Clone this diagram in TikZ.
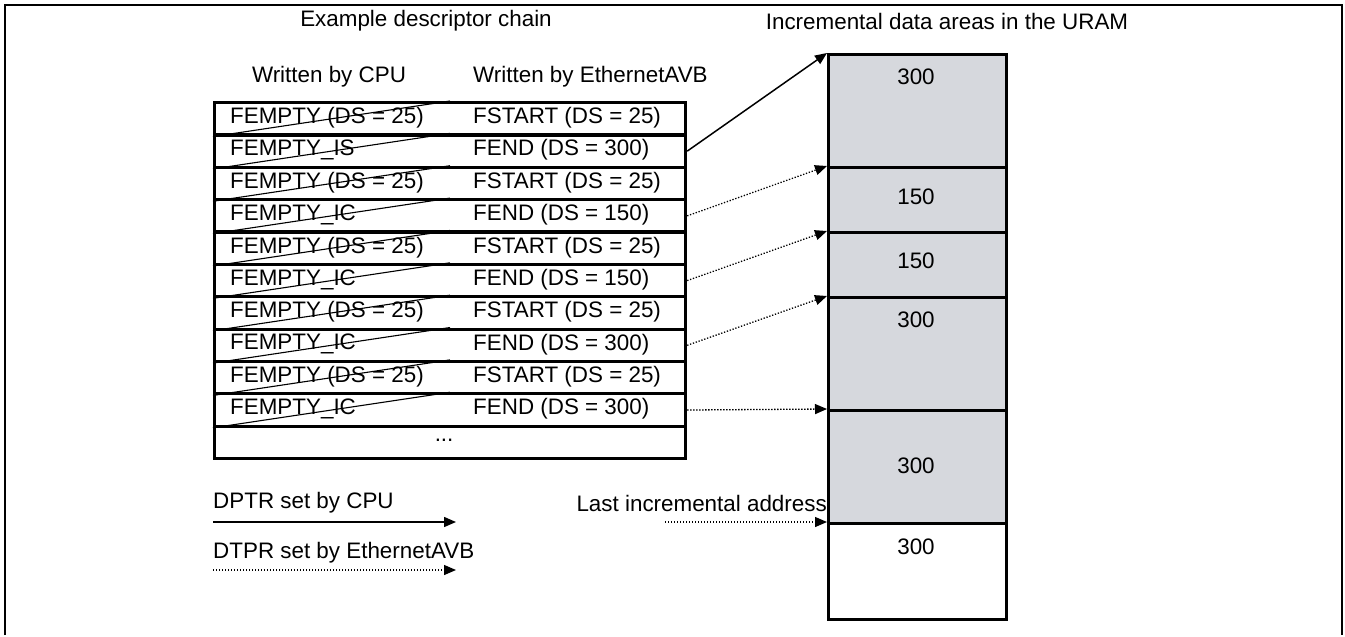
\documentclass[tikz,border=0pt]{standalone}
\usepackage{fontspec}
\setmainfont{Liberation Sans}
\usetikzlibrary{arrows.meta,calc}
\definecolor{areagray}{RGB}{214,216,221}
\tikzset{
  txt/.style={inner sep=0pt, font=\fontsize{22.4}{26}\selectfont},
  rowbox/.style={draw, line width=3.2pt, minimum width=471pt, minimum height=32.36pt, inner sep=0pt, anchor=north west},
  seg/.style={draw, line width=3.2pt, fill=areagray, minimum width=178pt, inner sep=0pt, anchor=north west},
  strike/.style={line width=1.1pt},
  tip/.style={-{Triangle[length=12pt,width=10pt]}},
  solidarrow/.style={tip, line width=1.5pt},
  dotarrow/.style={tip, line width=1.3pt, dash pattern=on 1.3pt off 1.7pt},
}
\begin{document}
\begin{tikzpicture}[x=1pt,y=-1pt]
\useasboundingbox (0,0) rectangle (1345,637);
\draw[line width=2pt] (5,635) -- (5,5) -- (1342,5) -- (1342,635);

% headers
\node[txt] (h1) at (426,21) {Example descriptor chain};
\node[txt] (h2) at (947,21) {Incremental data areas in the URAM};
\node[txt] (h3) at (329,77) {Written by CPU};
\node[txt, anchor=west] (h4) at (473,77) {Written by EthernetAVB};

% descriptor rows
\foreach \i in {1,...,11} {
  \node[rowbox] (r\i) at (213,{101+(\i-1)*32.36}) {};
}
\foreach \i in {1,...,10} {
  \draw[strike] (r\i.south west) -- ($(r\i.north west)+(237,0)$);
}
\foreach \i/\a/\b in {1/FEMPTY (DS = 25)/FSTART (DS = 25),
                      2/FEMPTY\_IS/FEND (DS = 300),
                      3/FEMPTY (DS = 25)/FSTART (DS = 25),
                      4/FEMPTY\_IC/FEND (DS = 150),
                      5/FEMPTY (DS = 25)/FSTART (DS = 25),
                      6/FEMPTY\_IC/FEND (DS = 150),
                      7/FEMPTY (DS = 25)/FSTART (DS = 25),
                      8/FEMPTY\_IC/FEND (DS = 300),
                      9/FEMPTY (DS = 25)/FSTART (DS = 25),
                      10/FEMPTY\_IC/FEND (DS = 300)} {
  \node[txt, anchor=west] (a\i) at ($(r\i.west)+(17,-1)$) {\a};
  \node[txt, anchor=west] (b\i) at ($(r\i.west)+(260,-1)$) {\b};
}
\node[txt] (dots) at ($(r11.center)+(-6,-2)$) {...};

% URAM areas
\node[seg, minimum height=113pt] (u1) at (827,53) {};
\node[seg, minimum height=65pt] (u2) at (827,166) {};
\node[seg, minimum height=65pt] (u3) at (827,231) {};
\node[seg, minimum height=113pt] (u4) at (827,296) {};
\node[seg, minimum height=113pt] (u5) at (827,409) {};
\node[seg, minimum height=96pt, fill=white] (u6) at (827,522) {};
\node[txt] (t1) at (916,77) {300};
\node[txt] (t2) at (916,197) {150};
\node[txt] (t3) at (916,261) {150};
\node[txt] (t4) at (916,320) {300};
\node[txt] (t5) at (916,466) {300};
\node[txt] (t6) at (916,547) {300};

% pointers
\draw[solidarrow] (r2.east) -- (u1.north west);
\draw[dotarrow] (r4.east) -- (u2.north west);
\draw[dotarrow] (r6.east) -- (u3.north west);
\draw[dotarrow] (r8.east) -- (u4.north west);
\draw[dotarrow] (r10.east) -- (u5.north west);

\node[txt, anchor=east] (last) at (827,503) {Last incremental address};
\coordinate (lastfrom) at (665,522);
\draw[dotarrow] (lastfrom) -- (u6.north west);

% legend
\node[txt, anchor=west] (l1) at (213,503) {DPTR set by CPU};
\coordinate (l1a) at (213,522);
\coordinate (l1b) at (456,522);
\draw[solidarrow] (l1a) -- (l1b);
\node[txt, anchor=west] (l2) at (213,553) {DTPR set by EthernetAVB};
\coordinate (l2a) at (213,570);
\coordinate (l2b) at (456,570);
\draw[dotarrow] (l2a) -- (l2b);
\end{tikzpicture}
\end{document}
